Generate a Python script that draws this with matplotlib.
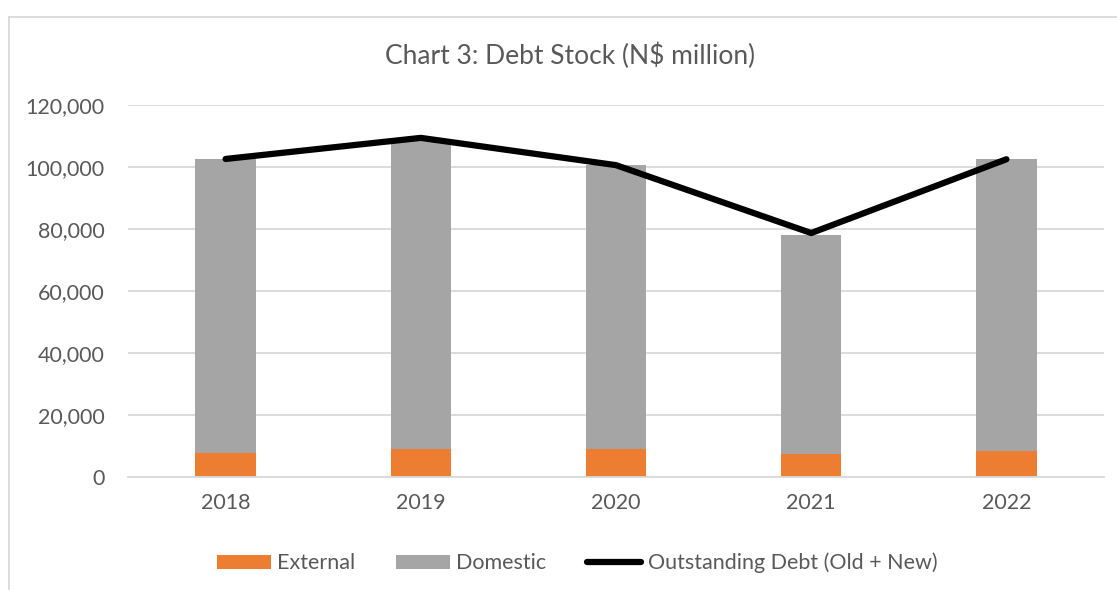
import numpy as np
import matplotlib
matplotlib.use('Agg')
import matplotlib.pyplot as plt
from matplotlib.lines import Line2D

plt.rcParams['font.family'] = ['Lato', 'DejaVu Sans']

years = ['2018', '2019', '2020', '2021', '2022']
external = [7700, 9000, 9000, 7200, 8400]
domestic = [94900, 100000, 91500, 70800, 94000]
outstanding = [102500, 109300, 100500, 78600, 102400]

text_col = '#595959'
grid_col = '#D9D9D9'

fig = plt.figure(figsize=(11.17, 5.9), dpi=100)
ax = fig.add_axes([128 / 1117, 113.3 / 590, 976 / 1117, 0.6305])

x = np.arange(len(years))
b1 = ax.bar(x, external, width=0.31, color='#ED7D31', label='External', zorder=2)
b2 = ax.bar(x, domestic, width=0.31, bottom=external, color='#A5A5A5', label='Domestic', zorder=2)
ln, = ax.plot(x, outstanding, color='black', lw=4.5, solid_capstyle='round',
              solid_joinstyle='round', label='Outstanding Debt (Old + New)', zorder=3)

ax.set_xlim(-0.5, len(years) - 0.5)
ax.set_ylim(0, 120000)
ax.set_yticks(np.arange(0, 120001, 20000))
ax.set_yticklabels([f'{v:,}' for v in range(0, 120001, 20000)])
ax.set_xticks(x)
ax.set_xticklabels(years)
ax.tick_params(length=0, labelsize=15.5, colors=text_col)
ax.tick_params(axis='y', pad=17)
ax.tick_params(axis='x', pad=12)
ax.grid(axis='y', color=grid_col, lw=1.3, zorder=0)
for s in ['top', 'right', 'left']:
    ax.spines[s].set_visible(False)
ax.spines['bottom'].set_color(grid_col)
ax.spines['bottom'].set_linewidth(1.3)

fig.text(0.51, 1 - 56 / 590, 'Chart 3: Debt Stock (N$ million)', ha='center', va='center',
         fontsize=19, color=text_col)

leg = fig.legend([b1, b2, ln], ['External', 'Domestic', 'Outstanding Debt (Old + New)'],
                 ncol=3, loc='center', bbox_to_anchor=(577 / 1117, 1 - 563 / 590),
                 frameon=False, fontsize=15.5, handlelength=2.5, handleheight=0.6,
                 handletextpad=0.3, columnspacing=1.9)
for t in leg.get_texts():
    t.set_color(text_col)

# outer chart frame (cut off at right and bottom)
fig.add_artist(Line2D([8.5 / 1117, 8.5 / 1117], [0, 1 - 17 / 590], color=grid_col, lw=1.3))
fig.add_artist(Line2D([8.5 / 1117, 1], [1 - 17 / 590, 1 - 17 / 590], color=grid_col, lw=1.3))

fig.savefig('out.png', dpi=100)
